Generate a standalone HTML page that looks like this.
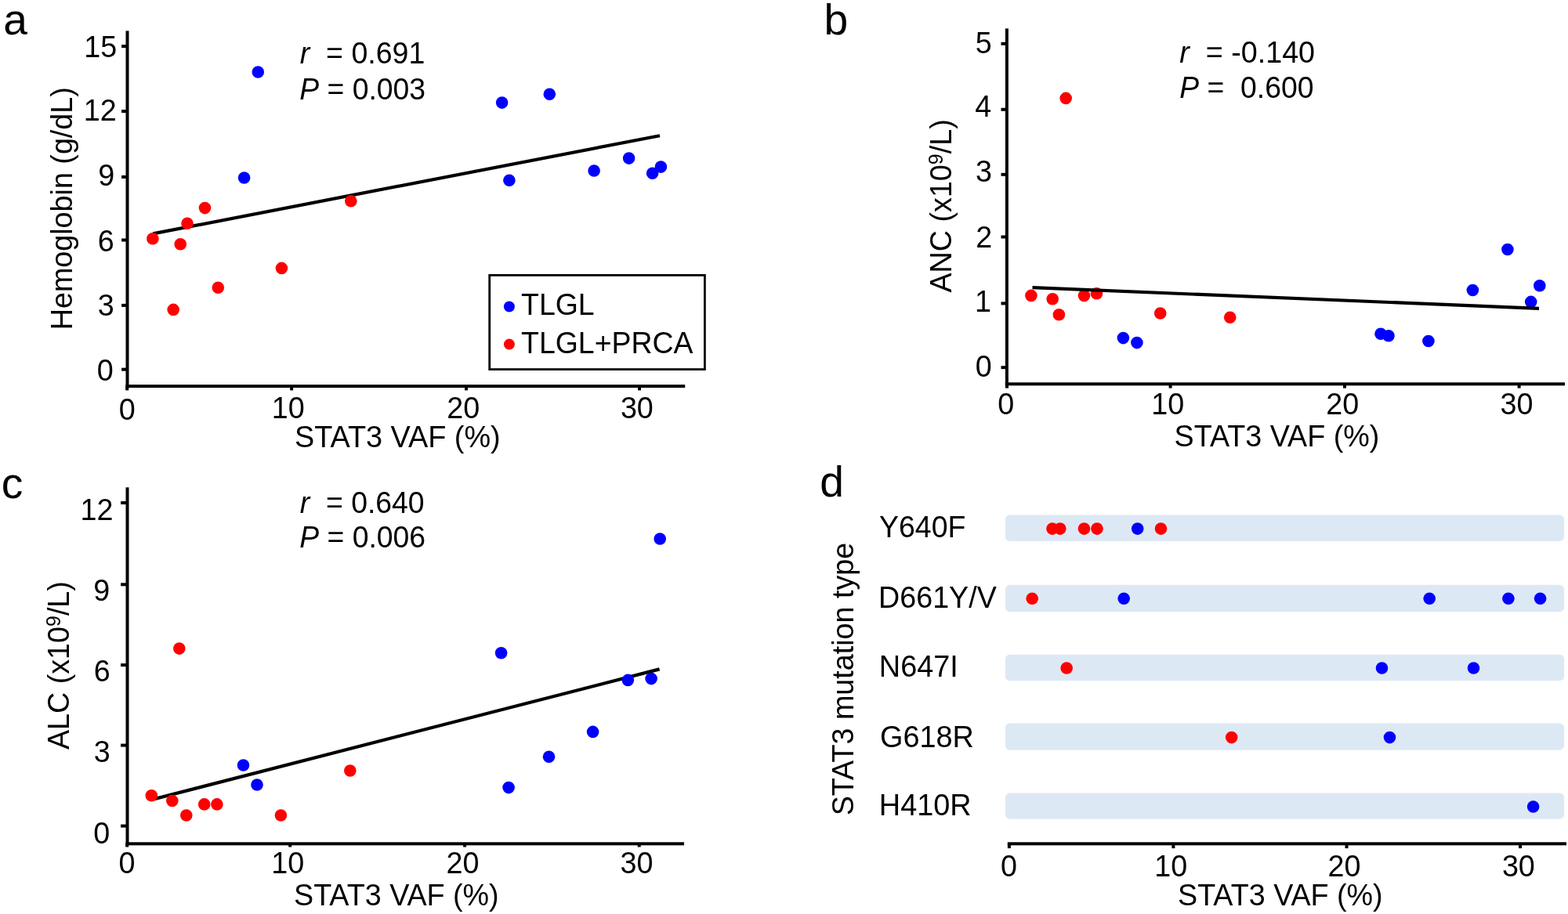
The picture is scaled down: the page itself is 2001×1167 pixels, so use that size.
<!DOCTYPE html>
<html lang="en">
<head>
<meta charset="utf-8">
<title>STAT3 VAF correlations</title>
<style>
html,body{margin:0;padding:0;background:#fff;}
body{width:2001px;height:1167px;overflow:hidden;}
svg{display:block;font-family:"Liberation Sans", sans-serif;fill:#000;}
</style>
</head>
<body>
<svg width="2001" height="1167" viewBox="0 0 2001 1167" role="img" aria-label="STAT3 VAF correlation plots">
<rect x="0" y="0" width="2001" height="1167" fill="#ffffff"/>
<rect x="160.50" y="39.40" width="4.00" height="455.70" fill="#000"/>
<rect x="155.10" y="57.10" width="6.40" height="4.00" fill="#000"/>
<rect x="155.10" y="140.10" width="6.40" height="4.00" fill="#000"/>
<rect x="155.10" y="223.90" width="6.40" height="4.00" fill="#000"/>
<rect x="155.10" y="304.50" width="6.40" height="4.00" fill="#000"/>
<rect x="155.10" y="387.90" width="6.40" height="4.00" fill="#000"/>
<rect x="155.10" y="469.70" width="6.40" height="4.00" fill="#000"/>
<rect x="160.40" y="491.10" width="713.80" height="4.00" fill="#000"/>
<rect x="160.20" y="493.10" width="4.00" height="5.30" fill="#000"/>
<rect x="370.10" y="493.10" width="4.00" height="5.30" fill="#000"/>
<rect x="593.00" y="493.10" width="4.00" height="5.30" fill="#000"/>
<rect x="814.00" y="493.10" width="4.00" height="5.30" fill="#000"/>
<line x1="195.2" y1="298.4" x2="842" y2="173.2" stroke="#000" stroke-width="4.2"/>
<circle cx="329.3" cy="92" r="7.8" fill="#0000ff"/>
<circle cx="311.6" cy="227" r="7.8" fill="#0000ff"/>
<circle cx="640.6" cy="131.1" r="7.8" fill="#0000ff"/>
<circle cx="701.3" cy="120.3" r="7.8" fill="#0000ff"/>
<circle cx="649.9" cy="230.3" r="7.8" fill="#0000ff"/>
<circle cx="758.1" cy="218" r="7.8" fill="#0000ff"/>
<circle cx="802.6" cy="202.1" r="7.8" fill="#0000ff"/>
<circle cx="832.6" cy="221.3" r="7.8" fill="#0000ff"/>
<circle cx="843.4" cy="213.1" r="7.8" fill="#0000ff"/>
<circle cx="261.5" cy="265.6" r="7.8" fill="#ff0000"/>
<circle cx="239.0" cy="285.2" r="7.8" fill="#ff0000"/>
<circle cx="447.8" cy="256.8" r="7.8" fill="#ff0000"/>
<circle cx="194.9" cy="304.8" r="7.8" fill="#ff0000"/>
<circle cx="230.2" cy="311.8" r="7.8" fill="#ff0000"/>
<circle cx="359.4" cy="342.4" r="7.8" fill="#ff0000"/>
<circle cx="278.3" cy="367.3" r="7.8" fill="#ff0000"/>
<circle cx="221.2" cy="395.4" r="7.8" fill="#ff0000"/>
<rect x="624.7" y="351.4" width="274.7" height="120.2" fill="#fff" stroke="#000" stroke-width="2.8"/>
<circle cx="649.9" cy="391.5" r="7" fill="#0000ff"/>
<circle cx="649.9" cy="439.6" r="7" fill="#ff0000"/>
<rect x="1282.90" y="36.40" width="4.00" height="455.90" fill="#000"/>
<rect x="1277.50" y="53.80" width="6.40" height="4.00" fill="#000"/>
<rect x="1277.50" y="137.80" width="6.40" height="4.00" fill="#000"/>
<rect x="1277.50" y="220.80" width="6.40" height="4.00" fill="#000"/>
<rect x="1277.50" y="300.50" width="6.40" height="4.00" fill="#000"/>
<rect x="1277.50" y="385.40" width="6.40" height="4.00" fill="#000"/>
<rect x="1277.50" y="467.20" width="6.40" height="4.00" fill="#000"/>
<rect x="1282.80" y="488.30" width="714.20" height="4.00" fill="#000"/>
<rect x="1283.00" y="490.30" width="4.00" height="5.30" fill="#000"/>
<rect x="1491.60" y="490.30" width="4.00" height="5.30" fill="#000"/>
<rect x="1714.00" y="490.30" width="4.00" height="5.30" fill="#000"/>
<rect x="1936.60" y="490.30" width="4.00" height="5.30" fill="#000"/>
<circle cx="1433.4" cy="431.6" r="7.8" fill="#0000ff"/>
<circle cx="1450.9" cy="437.6" r="7.8" fill="#0000ff"/>
<circle cx="1762" cy="426.2" r="7.8" fill="#0000ff"/>
<circle cx="1772" cy="428.8" r="7.8" fill="#0000ff"/>
<circle cx="1822.9" cy="435.5" r="7.8" fill="#0000ff"/>
<circle cx="1879.4" cy="370.5" r="7.8" fill="#0000ff"/>
<circle cx="1923.9" cy="318.5" r="7.8" fill="#0000ff"/>
<circle cx="1964.8" cy="364.8" r="7.8" fill="#0000ff"/>
<circle cx="1953.7" cy="385.4" r="7.8" fill="#0000ff"/>
<circle cx="1360.2" cy="125.4" r="7.8" fill="#ff0000"/>
<circle cx="1315.9" cy="377.4" r="7.8" fill="#ff0000"/>
<circle cx="1343.2" cy="381.8" r="7.8" fill="#ff0000"/>
<circle cx="1351.4" cy="401.8" r="7.8" fill="#ff0000"/>
<circle cx="1383.5" cy="377.4" r="7.8" fill="#ff0000"/>
<circle cx="1399.5" cy="374.8" r="7.8" fill="#ff0000"/>
<circle cx="1480.7" cy="400" r="7.8" fill="#ff0000"/>
<circle cx="1569.7" cy="405.2" r="7.8" fill="#ff0000"/>
<line x1="1317.5" y1="367.1" x2="1964" y2="393.9" stroke="#000" stroke-width="4.2"/>
<rect x="160.50" y="622.30" width="4.00" height="457.00" fill="#000"/>
<rect x="154.10" y="640.00" width="7.40" height="4.00" fill="#000"/>
<rect x="154.10" y="744.30" width="7.40" height="4.00" fill="#000"/>
<rect x="154.10" y="847.10" width="7.40" height="4.00" fill="#000"/>
<rect x="154.10" y="949.60" width="7.40" height="4.00" fill="#000"/>
<rect x="154.10" y="1052.60" width="7.40" height="4.00" fill="#000"/>
<rect x="160.40" y="1075.30" width="712.60" height="4.00" fill="#000"/>
<rect x="160.20" y="1077.30" width="4.00" height="4.20" fill="#000"/>
<rect x="368.20" y="1077.30" width="4.00" height="4.20" fill="#000"/>
<rect x="591.10" y="1077.30" width="4.00" height="4.20" fill="#000"/>
<rect x="813.70" y="1077.30" width="4.00" height="4.20" fill="#000"/>
<line x1="196.0" y1="1020.4" x2="841.6" y2="854.4" stroke="#000" stroke-width="4.2"/>
<circle cx="842.2" cy="688" r="7.8" fill="#0000ff"/>
<circle cx="639.6" cy="833.7" r="7.8" fill="#0000ff"/>
<circle cx="801.3" cy="868.4" r="7.8" fill="#0000ff"/>
<circle cx="831.1" cy="866.6" r="7.8" fill="#0000ff"/>
<circle cx="310.5" cy="977" r="7.8" fill="#0000ff"/>
<circle cx="328" cy="1002" r="7.8" fill="#0000ff"/>
<circle cx="649.1" cy="1005.6" r="7.8" fill="#0000ff"/>
<circle cx="700.5" cy="966.2" r="7.8" fill="#0000ff"/>
<circle cx="756.6" cy="934.4" r="7.8" fill="#0000ff"/>
<circle cx="228.8" cy="828.1" r="7.8" fill="#ff0000"/>
<circle cx="193.3" cy="1015.8" r="7.8" fill="#ff0000"/>
<circle cx="219.8" cy="1022.5" r="7.8" fill="#ff0000"/>
<circle cx="237.8" cy="1041" r="7.8" fill="#ff0000"/>
<circle cx="260.7" cy="1026.9" r="7.8" fill="#ff0000"/>
<circle cx="276.9" cy="1026.9" r="7.8" fill="#ff0000"/>
<circle cx="358.4" cy="1041" r="7.8" fill="#ff0000"/>
<circle cx="446.8" cy="984" r="7.8" fill="#ff0000"/>
<rect x="1282.8" y="657.6" width="713.3" height="33.5" rx="6" fill="#dde8f5"/>
<rect x="1282.8" y="746.8" width="713.3" height="34.4" rx="6" fill="#dde8f5"/>
<rect x="1282.8" y="835.8" width="713.3" height="33.4" rx="6" fill="#dde8f5"/>
<rect x="1282.8" y="923.6" width="713.3" height="34.1" rx="6" fill="#dde8f5"/>
<rect x="1282.8" y="1012.5" width="713.3" height="33.2" rx="6" fill="#dde8f5"/>
<rect x="1285.80" y="1075.30" width="713.20" height="4.00" fill="#000"/>
<rect x="1285.90" y="1077.30" width="4.00" height="5.80" fill="#000"/>
<rect x="1495.40" y="1077.30" width="4.00" height="5.80" fill="#000"/>
<rect x="1716.50" y="1077.30" width="4.00" height="5.80" fill="#000"/>
<rect x="1938.10" y="1077.30" width="4.00" height="5.80" fill="#000"/>
<circle cx="1343.0" cy="675.1" r="7.8" fill="#ff0000"/>
<circle cx="1352.8" cy="675.1" r="7.8" fill="#ff0000"/>
<circle cx="1383.5" cy="675.1" r="7.8" fill="#ff0000"/>
<circle cx="1400" cy="675.1" r="7.8" fill="#ff0000"/>
<circle cx="1481.5" cy="675.1" r="7.8" fill="#ff0000"/>
<circle cx="1317.2" cy="764.3" r="7.8" fill="#ff0000"/>
<circle cx="1361.2" cy="853" r="7.8" fill="#ff0000"/>
<circle cx="1571.7" cy="941.6" r="7.8" fill="#ff0000"/>
<circle cx="1451.7" cy="675.1" r="7.8" fill="#0000ff"/>
<circle cx="1434.2" cy="764.3" r="7.8" fill="#0000ff"/>
<circle cx="1824.2" cy="764.3" r="7.8" fill="#0000ff"/>
<circle cx="1924.9" cy="764.3" r="7.8" fill="#0000ff"/>
<circle cx="1965.6" cy="764.3" r="7.8" fill="#0000ff"/>
<circle cx="1763.5" cy="853" r="7.8" fill="#0000ff"/>
<circle cx="1880.5" cy="853" r="7.8" fill="#0000ff"/>
<circle cx="1773.5" cy="941.6" r="7.8" fill="#0000ff"/>
<circle cx="1956.6" cy="1030" r="7.8" fill="#0000ff"/>
<text transform="translate(4.15 44.30)" font-size="55.2" xml:space="preserve">a</text>
<text transform="translate(107.22 73.40) scale(0.9615 1)" font-size="39.2" xml:space="preserve">15</text>
<text transform="translate(106.86 153.70) scale(0.9615 1)" font-size="39.2" xml:space="preserve">12</text>
<text transform="translate(125.27 237.20) scale(0.9615 1)" font-size="39.2" xml:space="preserve">9</text>
<text transform="translate(124.67 320.90) scale(0.9615 1)" font-size="39.2" xml:space="preserve">6</text>
<text transform="translate(124.67 403.20) scale(0.9615 1)" font-size="39.2" xml:space="preserve">3</text>
<text transform="translate(123.83 486.30) scale(0.9615 1)" font-size="39.2" xml:space="preserve">0</text>
<text transform="translate(151.64 536.10) scale(0.9615 1)" font-size="39.2" xml:space="preserve">0</text>
<text transform="translate(346.77 534.30) scale(0.9615 1)" font-size="39.2" xml:space="preserve">10</text>
<text transform="translate(570.25 534.30) scale(0.9615 1)" font-size="39.2" xml:space="preserve">20</text>
<text transform="translate(791.89 534.30) scale(0.9615 1)" font-size="39.2" xml:space="preserve">30</text>
<text transform="translate(92.00 421.28) rotate(-90) scale(0.977 1)" font-size="38.6" xml:space="preserve">Hemoglobin (g/dL)</text>
<text transform="translate(376.01 571.00) scale(0.965 1)" font-size="39.2" xml:space="preserve">STAT3 VAF (%)</text>
<text transform="translate(382.78 81.00) scale(0.957 1)" font-size="39.2" xml:space="preserve"><tspan font-style="italic">r</tspan>  = 0.691</text>
<text transform="translate(382.31 126.50) scale(0.952 1)" font-size="39.2" xml:space="preserve"><tspan font-style="italic">P</tspan> = 0.003</text>
<text transform="translate(665.04 402.40) scale(0.955 1)" font-size="39.2" xml:space="preserve">TLGL</text>
<text transform="translate(665.04 450.50) scale(0.955 1)" font-size="39.2" xml:space="preserve">TLGL+PRCA</text>
<text transform="translate(1051.50 43.70)" font-size="55.2" xml:space="preserve">b</text>
<text transform="translate(1244.83 68.00) scale(0.9615 1)" font-size="39.2" xml:space="preserve">5</text>
<text transform="translate(1244.35 149.20) scale(0.9615 1)" font-size="39.2" xml:space="preserve">4</text>
<text transform="translate(1245.07 232.40) scale(0.9615 1)" font-size="39.2" xml:space="preserve">3</text>
<text transform="translate(1245.31 315.90) scale(0.9615 1)" font-size="39.2" xml:space="preserve">2</text>
<text transform="translate(1244.07 397.50) scale(0.9615 1)" font-size="39.2" xml:space="preserve">1</text>
<text transform="translate(1244.83 481.20) scale(0.9615 1)" font-size="39.2" xml:space="preserve">0</text>
<text transform="translate(1273.14 529.20) scale(0.9615 1)" font-size="39.2" xml:space="preserve">0</text>
<text transform="translate(1469.37 529.10) scale(0.9615 1)" font-size="39.2" xml:space="preserve">10</text>
<text transform="translate(1692.25 529.10) scale(0.9615 1)" font-size="39.2" xml:space="preserve">20</text>
<text transform="translate(1914.59 529.10) scale(0.9615 1)" font-size="39.2" xml:space="preserve">30</text>
<text transform="translate(1213.60 373.55) rotate(-90) scale(0.977 1)" font-size="38.6" xml:space="preserve">ANC (x10<tspan font-size="25.5" dy="-10.9">9</tspan><tspan dy="10.9">/L)</tspan></text>
<text transform="translate(1498.62 569.60) scale(0.9615 1)" font-size="39.2" xml:space="preserve">STAT3 VAF (%)</text>
<text transform="translate(1505.28 80.20) scale(0.9615 1)" font-size="39.2" xml:space="preserve"><tspan font-style="italic">r</tspan>  = -0.140</text>
<text transform="translate(1505.31 124.70) scale(0.952 1)" font-size="39.2" xml:space="preserve"><tspan font-style="italic">P</tspan> =  0.600</text>
<text transform="translate(1.78 635.50)" font-size="55.2" xml:space="preserve">c</text>
<text transform="translate(102.46 663.80) scale(0.9615 1)" font-size="39.2" xml:space="preserve">12</text>
<text transform="translate(119.37 767.20) scale(0.9615 1)" font-size="39.2" xml:space="preserve">9</text>
<text transform="translate(119.67 870.00) scale(0.9615 1)" font-size="39.2" xml:space="preserve">6</text>
<text transform="translate(119.67 973.00) scale(0.9615 1)" font-size="39.2" xml:space="preserve">3</text>
<text transform="translate(119.23 1076.80) scale(0.9615 1)" font-size="39.2" xml:space="preserve">0</text>
<text transform="translate(151.44 1114.70) scale(0.9615 1)" font-size="39.2" xml:space="preserve">0</text>
<text transform="translate(346.37 1114.60) scale(0.9615 1)" font-size="39.2" xml:space="preserve">10</text>
<text transform="translate(569.55 1114.60) scale(0.9615 1)" font-size="39.2" xml:space="preserve">20</text>
<text transform="translate(791.59 1114.60) scale(0.9615 1)" font-size="39.2" xml:space="preserve">30</text>
<text transform="translate(88.00 957.09) rotate(-90) scale(0.977 1)" font-size="38.6" xml:space="preserve">ALC (x10<tspan font-size="25.5" dy="-10.9">9</tspan><tspan dy="10.9">/L)</tspan></text>
<text transform="translate(375.02 1156.20) scale(0.9615 1)" font-size="39.2" xml:space="preserve">STAT3 VAF (%)</text>
<text transform="translate(382.79 654.60) scale(0.953 1)" font-size="39.2" xml:space="preserve"><tspan font-style="italic">r</tspan>  = 0.640</text>
<text transform="translate(382.31 698.80) scale(0.952 1)" font-size="39.2" xml:space="preserve"><tspan font-style="italic">P</tspan> = 0.006</text>
<text transform="translate(1046.35 634.30)" font-size="55.2" xml:space="preserve">d</text>
<text transform="translate(1122.05 686.20) scale(0.955 1)" font-size="39.2" xml:space="preserve">Y640F</text>
<text transform="translate(1121.08 775.50) scale(0.961 1)" font-size="39.2" xml:space="preserve">D661Y/V</text>
<text transform="translate(1121.86 864.00) scale(0.965 1)" font-size="39.2" xml:space="preserve">N647I</text>
<text transform="translate(1122.97 953.90) scale(0.965 1)" font-size="39.2" xml:space="preserve">G618R</text>
<text transform="translate(1121.86 1041.10) scale(0.965 1)" font-size="39.2" xml:space="preserve">H410R</text>
<text transform="translate(1089.00 1041.27) rotate(-90) scale(0.977 1)" font-size="38.6" xml:space="preserve">STAT3 mutation type</text>
<text transform="translate(1276.94 1118.80) scale(0.9615 1)" font-size="39.2" xml:space="preserve">0</text>
<text transform="translate(1473.37 1118.80) scale(0.9615 1)" font-size="39.2" xml:space="preserve">10</text>
<text transform="translate(1694.55 1118.80) scale(0.9615 1)" font-size="39.2" xml:space="preserve">20</text>
<text transform="translate(1916.89 1118.80) scale(0.9615 1)" font-size="39.2" xml:space="preserve">30</text>
<text transform="translate(1503.02 1155.80) scale(0.9615 1)" font-size="39.2" xml:space="preserve">STAT3 VAF (%)</text>
</svg>
</body>
</html>
